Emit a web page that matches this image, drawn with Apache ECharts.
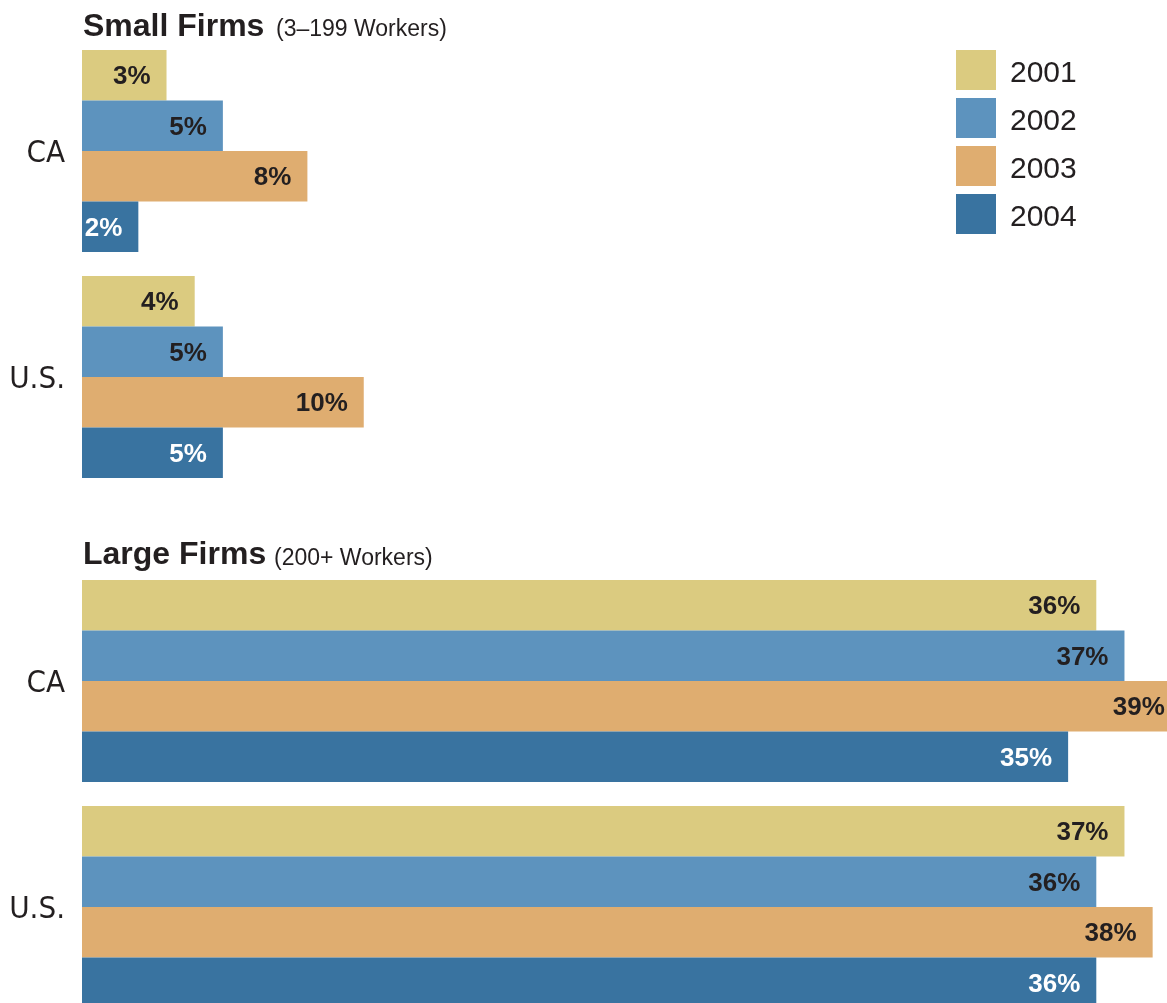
<!DOCTYPE html>
<html>
<head>
<meta charset="utf-8">
<script src="https://cdn.jsdelivr.net/npm/echarts@6/dist/echarts.min.js"></script>
<style>
  html, body { margin: 0; padding: 0; background: #fff; }
  #main { width: 1167px; height: 1003px; }
</style>
</head>
<body>
<div id="main"></div>
<script>
// categories and years
var categories = ['CA', 'U.S.'];
var years = ['2001', '2002', '2003', '2004'];

// small firms (3-199 workers), one array per year: [CA, U.S.]
var small2001 = [3, 4];
var small2002 = [5, 5];
var small2003 = [8, 10];
var small2004 = [2, 5];

// large firms (200+ workers)
var large2001 = [36, 37];
var large2002 = [37, 36];
var large2003 = [39, 38];
var large2004 = [35, 36];

var colors = ['#dbcb80', '#5d93be', '#dfad70', '#3973a0'];
var labelColors = ['#231f20', '#231f20', '#231f20', '#ffffff'];
var ink = '#231f20';

var smallData = [small2001, small2002, small2003, small2004];
var largeData = [large2001, large2002, large2003, large2004];

function makeSeries(data, idx) {
    return data.map(function (vals, i) {
        return {
            name: years[i],
            type: 'bar',
            xAxisIndex: idx,
            yAxisIndex: idx,
            data: vals,
            barWidth: 50.5,
            barGap: '0%',
            clip: false,
            itemStyle: { color: colors[i] },
            label: {
                show: true,
                position: 'insideRight',
                distance: 16,
                offset: [0, 2],
                formatter: '{c}%',
                color: labelColors[i],
                fontFamily: 'Liberation Sans, Arial, sans-serif',
                fontWeight: 'bold',
                fontSize: 26
            }
        };
    });
}

var myChart = echarts.init(document.getElementById('main'));

var yAxisBase = {
    type: 'category',
    data: categories,
    inverse: true,
    axisLine: { show: false },
    axisTick: { show: false },
    splitLine: { show: false },
    axisLabel: {
        margin: 17,
        formatter: '{c|{value}}',
        rich: {
            c: {
                fontSize: 31,
                padding: [6, 0, 0, 0],
                fontFamily: 'Liberation Sans Narrow, DejaVu Sans Condensed, sans-serif',
                color: ink
            }
        }
    }
};

var xAxisBase = {
    type: 'value',
    min: 0,
    max: 40,
    show: false
};

var titleFont = 'Liberation Sans, Arial, sans-serif';

var option = {
    backgroundColor: '#fff',
    animation: false,
    title: [
        { text: 'Small Firms', left: 83, top: 11, padding: 0,
          textStyle: { fontSize: 32, fontWeight: 'bold', color: ink, fontFamily: titleFont } },
        { text: '(3–199 Workers)', left: 276, top: 18, padding: 0,
          textStyle: { fontSize: 23, fontWeight: 'normal', color: ink, fontFamily: titleFont } },
        { text: 'Large Firms', left: 83, top: 539, padding: 0,
          textStyle: { fontSize: 32, fontWeight: 'bold', color: ink, fontFamily: titleFont } },
        { text: '(200+ Workers)', left: 274, top: 547, padding: 0,
          textStyle: { fontSize: 23, fontWeight: 'normal', color: ink, fontFamily: titleFont } }
    ],
    legend: {
        data: years,
        orient: 'vertical',
        left: 956,
        top: 50,
        padding: 0,
        itemWidth: 40,
        itemHeight: 40,
        itemGap: 8,
        icon: 'rect',
        selectedMode: false,
        formatter: '{y|{name}}',
        textStyle: {
            rich: {
                y: {
                    fontSize: 30,
                    color: ink,
                    fontFamily: titleFont,
                    padding: [8, 0, 0, 9]
                }
            }
        }
    },
    grid: [
        { left: 82, top: 38, width: 1127, height: 452, outerBoundsMode: 'none' },
        { left: 82, top: 568, width: 1127, height: 452, outerBoundsMode: 'none' }
    ],
    xAxis: [
        Object.assign({ gridIndex: 0 }, xAxisBase),
        Object.assign({ gridIndex: 1 }, xAxisBase)
    ],
    yAxis: [
        Object.assign({ gridIndex: 0 }, yAxisBase),
        Object.assign({ gridIndex: 1 }, yAxisBase)
    ],
    series: makeSeries(smallData, 0).concat(makeSeries(largeData, 1))
};

myChart.setOption(option);
window.addEventListener('resize', function () {
    myChart.resize();
});
</script>
</body>
</html>
